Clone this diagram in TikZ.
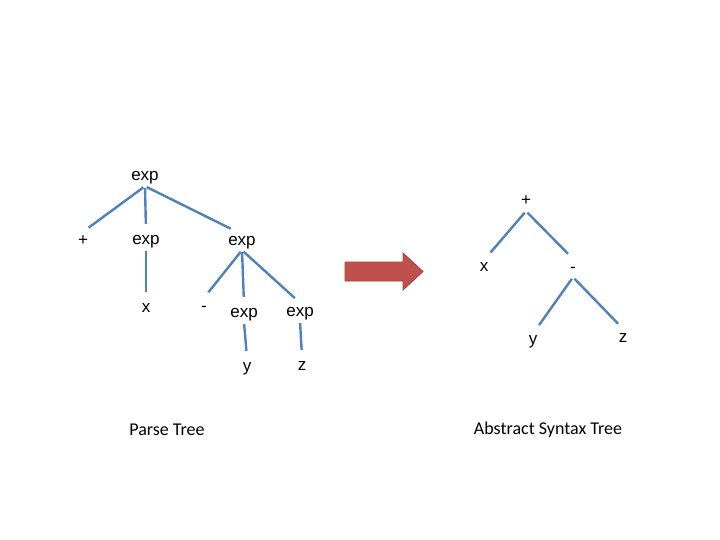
\documentclass[tikz,border=0pt]{standalone}
\usepackage{fontspec}
\setmainfont{Liberation Sans}
\newfontfamily\capfont{Carlito}
\definecolor{treeblue}{HTML}{4F81BD}
\definecolor{arrowred}{HTML}{C0504D}
\definecolor{arrowedge}{HTML}{A23F3C}
\tikzset{
  sym/.style={font=\fontsize{17}{20}\selectfont, inner sep=1pt, text height=12pt, text depth=4pt},
  branch/.style={draw=treeblue, line width=2.4pt, shorten <=2pt, shorten >=7pt},
  caption/.style={font=\capfont\fontsize{18}{22}\selectfont, inner sep=0pt}
}
\begin{document}
\begin{tikzpicture}[x=1pt, y=-1pt]
    \useasboundingbox (0,0) rectangle (720,540);
    % parse tree
    \node[sym] (root) at (145,177) {exp};
    \node[sym] (plus) at (83,241) {+};
    \node[sym] (expA) at (146,240) {exp};
    \node[sym] (expB) at (242,241) {exp};
    \node[sym] (x) at (146,308) {x};
    \node[sym] (minus) at (204,307) {-};
    \node[sym] (expC) at (244,313) {exp};
    \node[sym] (expD) at (300,312) {exp};
    \node[sym] (y) at (247,367) {y};
    \node[sym] (z) at (302,366) {z};
    \draw[branch] (root.south) -- (plus.north);
    \draw[branch] (root.south) -- (expA.north);
    \draw[branch] (root.south) -- ([xshift=-5pt]expB.north);
    \draw[branch] (expA.south) -- (x.north);
    \draw[branch] (expB.south) -- (minus.north);
    \draw[branch] (expB.south) -- (expC.north);
    \draw[branch] (expB.south) -- (expD.north);
    \draw[branch] (expC.south) -- (y.north);
    \draw[branch] (expD.south) -- (z.north);
    \node[caption] (ptree) at (167,430) {Parse Tree};
    % arrow
    \filldraw[fill=arrowred, draw=arrowedge, line width=0.8pt]
      (345,262) -- (403,262) -- (403,253) -- (423,271.5) -- (403,290)
      -- (403,281) -- (345,281) -- cycle;
    % abstract syntax tree
    \node[sym] (aplus) at (526,202) {+};
    \node[sym] (ax) at (484,267) {x};
    \node[sym] (aminus) at (573,268) {-};
    \node[sym] (ay) at (533,340) {y};
    \node[sym] (az) at (623,338) {z};
    \draw[branch] (aplus.south) -- ([xshift=2pt]ax.north);
    \draw[branch] (aplus.south) -- (aminus.north);
    \draw[branch] (aminus.south) -- ([xshift=2pt]ay.north);
    \draw[branch] (aminus.south) -- (az.north);
    \node[caption] (ast) at (548,430) {Abstract Syntax Tree};
\end{tikzpicture}
\end{document}
